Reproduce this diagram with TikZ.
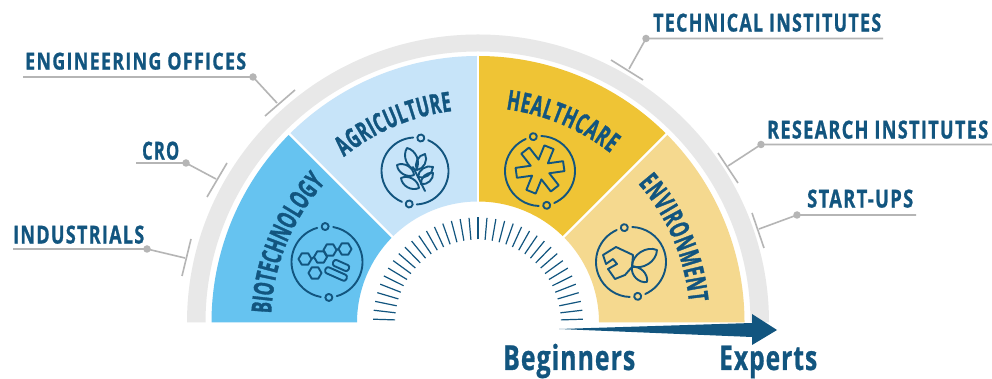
\documentclass[tikz,border=0pt]{standalone}
\usepackage{fontspec}
\usepackage{graphicx}
\usetikzlibrary{decorations.text,calc}
\newfontfamily\labfont[FakeStretch=0.68,LetterSpace=5,FakeBold=0.8]{Open Sans}
\newfontfamily\arcfontbase[FakeStretch=0.6,FakeBold=1.2]{Open Sans}
\newfontfamily\axfont[FakeStretch=0.72,LetterSpace=3,FakeBold=0.8]{Open Sans}
\newcommand{\arcfnt}{\fontsize{27.5}{27.5}\selectfont\arcfontbase\bfseries\color{dk}}
\definecolor{dk}{HTML}{12557F}
\definecolor{bandgray}{HTML}{E8E8E8}
\definecolor{linegray}{HTML}{B5B5B5}
\definecolor{cbio}{HTML}{66C3F0}
\definecolor{cagr}{HTML}{C7E4F9}
\definecolor{chea}{HTML}{EFC435}
\definecolor{cenv}{HTML}{F5D98F}
\tikzset{
  iconline/.style={draw=dk,line width=1.9pt,line cap=round,line join=round},
  leadline/.style={draw=linegray,line width=1.6pt},
  ldot/.style={circle,fill=linegray,inner sep=0pt,minimum size=7.5pt},
  lab/.style={inner sep=0pt,anchor=south west,text=dk},
  axlab/.style={inner sep=0pt,anchor=base west,text=dk},
}
% annular sector, centred on the gauge centre
\newcommand{\sectorfill}[5]{\fill[#5] (#1:#3pt) arc[start angle=#1,end angle=#2,radius=#3pt] -- (#2:#4pt) arc[start angle=#2,end angle=#1,radius=#4pt] -- cycle;}
% ring with two small circles
\newcommand{\ringicon}[4]{%
  \begin{scope}[shift={(#1,{379-#2})},rotate=#3]
    \draw[iconline] (103:#4pt) arc[start angle=103,end angle=257,radius=#4pt];
    \draw[iconline] (283:#4pt) arc[start angle=283,end angle=437,radius=#4pt];
    \draw[iconline] (90:#4pt) circle[radius=3.5pt];
    \draw[iconline] (270:#4pt) circle[radius=3.5pt];
  \end{scope}}
\newcommand{\hexa}[2]{\draw[iconline] (#1,#2) ++(0:6.5) -- ++(120:6.5) -- ++(180:6.5) -- ++(240:6.5) -- ++(300:6.5) -- ++(0:6.5) -- cycle;}
\newcommand{\leaf}[5][55]{\draw[iconline] (#2,#3) to[bend left=#1] (#4,#5) to[bend left=#1] cycle;}
\newcommand{\capsule}[5]{\begin{scope}[shift={(#1,#2)},rotate=#5]\draw[iconline,rounded corners=2.6pt] (-#3,-#4) rectangle (#3,#4);\end{scope}}
% callout: name, line start x, line end x (dot), y, elbow, bar end 1, bar end 2
\newcommand{\callout}[9]{%
  \coordinate (#1-s) at (#2,#3);
  \node[ldot] (#1-d) at (#4,#3) {};
  \coordinate (#1-e) at (#5,#6);
  \coordinate (#1-a) at (#7,#8);
  \coordinate (#1-b) at (#9);
  \draw[leadline] (#1-s) -- (#1-d.center) -- (#1-e);
  \draw[leadline] (#1-a) -- (#1-b);
}
\begin{document}
\begin{tikzpicture}[x=1pt,y=1pt]
\useasboundingbox (0,0) rectangle (992,379);
\fill[white] (0,0) rectangle (992,379);
% gauge
\begin{scope}[shift={(478,56.5)}]
  \fill[bandgray] (-291pt,0pt) arc[start angle=180,end angle=0,x radius=291pt,y radius=288pt]
    -- (272.5pt,0pt) arc[start angle=0,end angle=180,x radius=272.5pt,y radius=271pt] -- cycle;
  \sectorfill{180}{135}{266.5}{121}{cbio}
  \sectorfill{135}{90}{266.5}{121}{cagr}
  \sectorfill{90}{45}{266.5}{121}{chea}
  \sectorfill{45}{0}{266.5}{121}{cenv}
  \foreach \a in {135,90,45}{\draw[white,line width=2.4pt] (\a:119pt) -- (\a:269pt);}
  \foreach \k in {-18,...,18}{
    \pgfmathsetmacro{\ang}{90+4.9*\k}
    \draw[dk,line width=1.2pt] (\ang:83pt) -- (\ang:105pt);}
  \path[decorate,decoration={text along path,text align={fit to path},text={|\arcfnt|BIOTECHNOLOGY}}]
    (177.5:207pt) arc[start angle=177.5,end angle=137.5,radius=207pt];
  \path[decorate,decoration={text along path,text align={fit to path},text={|\arcfnt|AGRICULTURE}}]
    (129:213pt) arc[start angle=129,end angle=97,radius=213pt];
  \path[decorate,decoration={text along path,text align={fit to path},text={|\arcfnt|HEALTHCARE}}]
    (82.5:215pt) arc[start angle=82.5,end angle=52,radius=215pt];
  \path[decorate,decoration={text along path,text align={fit to path},text={|\arcfnt|ENVIRONMENT}}]
    (41:212pt) arc[start angle=41,end angle=5.5,radius=212pt];
\end{scope}
% icon rings
\ringicon{327}{262}{3}{35.5}
\ringicon{415}{171}{-10}{33.5}
\ringicon{540}{171}{11}{35}
\ringicon{631}{262}{11}{35}
% healthcare star
\begin{scope}[shift={(540,{379-169.5})}]
  \draw[iconline] \foreach \k in {0,...,5}{
     \ifnum\k=0 ({8+60*\k-11.8}:24.5pt) \else -- ({8+60*\k-11.8}:24.5pt) \fi
     -- ({8+60*\k+11.8}:24.5pt) -- ({38+60*\k}:10pt)} -- cycle;
\end{scope}
% glyphs in image pixel coordinates
\begin{scope}[shift={(0,379)},yscale=-1]
  % biotechnology
  \hexa{305}{259}\hexa{320.5}{257}\hexa{330}{250}\hexa{345}{249}\hexa{315}{273}
  \draw[iconline] (311.5,259) -- (314,257) (336.5,250) -- (338.5,249);
  \capsule{341}{265.5}{8.5}{3.2}{24}
  \capsule{336}{274}{11.5}{3.2}{24}
  % agriculture
  \draw[iconline] (413,167) -- (425,191);
  \leaf{416}{170}{407}{148}
  \leaf{417}{170}{425}{154}
  \leaf{414}{175}{397}{165}
  \leaf{418}{177}{433}{167}
  \leaf{419}{188}{401}{178}
  \leaf{421}{184}{433}{173}
  % environment
  \draw[iconline] (603,255) -- (616,247) -- (633,255) -- (632,267) -- (625,275) -- (615,279) -- (608,269) -- (617,264) -- (613,259) -- (606,264) -- cycle;
  \leaf[55]{632}{266}{657}{250}
  \leaf[55]{632}{267}{647}{282}
  % arrow
  \fill[dk] (559,329) -- (752,323) -- (752,314) -- (777,330) -- (752,345) -- (752,337) -- cycle;
  % callouts
  \callout{eng}{23}{77}{253}{277}{103}{265}{116}{295,90}
  \callout{cro}{136}{163}{186}{216}{179}{207}{197}{227,163}
  \callout{ind}{13}{249}{147}{185}{258}{182}{276}{191,239}
  \callout{tec}{883}{38.5}{646}{629}{69}{611}{60}{643,80}
  \callout{res}{992}{144.5}{761}{728}{166}{718}{153}{738,183}
  \callout{sta}{916}{215}{797}{759}{229}{752}{213}{764,248}
  % labels
  \node[lab] (lab-eng) at (25,70) {\resizebox{221pt}{17pt}{\labfont\bfseries ENGINEERING OFFICES}};
  \node[lab] (lab-cro) at (142,160) {\resizebox{37pt}{18pt}{\labfont\bfseries CRO}};
  \node[lab] (lab-ind) at (13,244) {\resizebox{131pt}{18pt}{\labfont\bfseries INDUSTRIALS}};
  \node[lab] (lab-tec) at (653,32) {\resizebox{228pt}{18pt}{\labfont\bfseries TECHNICAL INSTITUTES}};
  \node[lab] (lab-res) at (767,139) {\resizebox{221pt}{18pt}{\labfont\bfseries RESEARCH INSTITUTES}};
  \node[lab] (lab-sta) at (807,208) {\resizebox{106pt}{18pt}{\labfont\bfseries START-UPS}};
  \node[axlab] (lab-beg) at (503,370) {\resizebox{132pt}{!}{\axfont\bfseries Beginners}};
  \node[axlab] (lab-exp) at (719,370) {\resizebox{98pt}{!}{\axfont\bfseries Experts}};
\end{scope}
\end{tikzpicture}
\end{document}
